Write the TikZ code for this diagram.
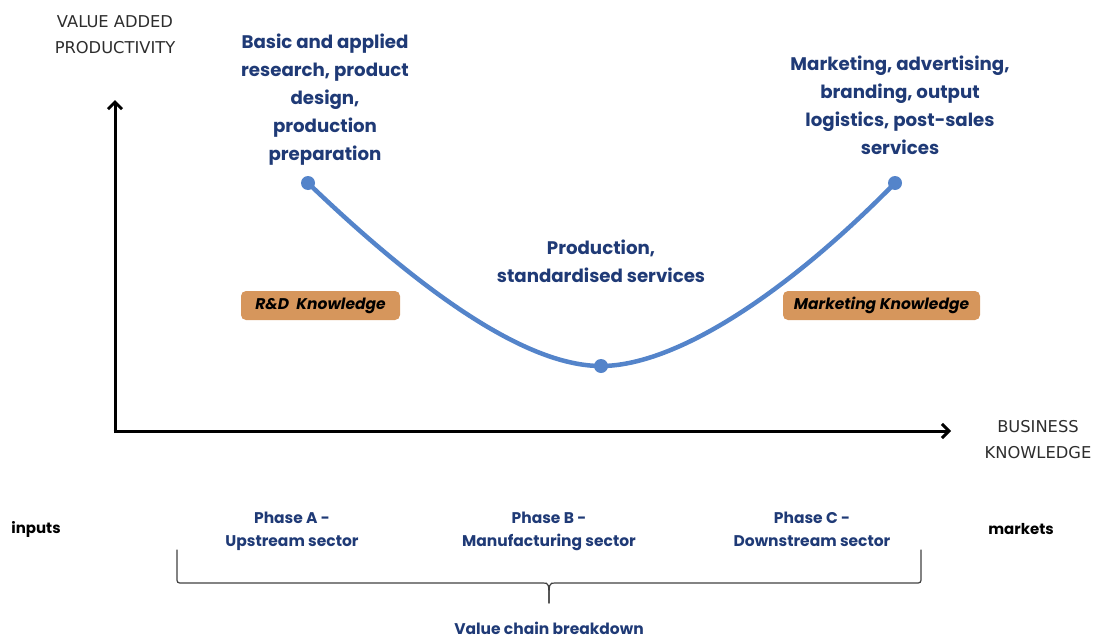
\documentclass[tikz,border=0pt]{standalone}
\usepackage{fontspec}
\setmainfont{Poppins}
\newfontfamily\axisfont{DejaVu Sans}
\usetikzlibrary{arrows.meta}
\definecolor{navy}{RGB}{31,58,118}
\definecolor{curveblue}{RGB}{84,132,202}
\definecolor{tan}{RGB}{214,150,92}
\definecolor{axisgrey}{RGB}{45,45,45}
\tikzset{
  blue label/.style={text=navy, font=\fontsize{18.2}{28}\selectfont\bfseries, align=center, inner sep=0pt},
  axis label/.style={text=axisgrey, font=\axisfont\fontsize{16.3}{26}\selectfont, align=center, inner sep=0pt},
  phase label/.style={text=navy, font=\fontsize{15.5}{23}\selectfont\bfseries, align=center, inner sep=0pt},
  end label/.style={text=black, font=\fontsize{15}{23}\selectfont\bfseries, inner sep=0pt},
  knowledge/.style={fill=tan, rounded corners=5pt, minimum height=29pt, inner sep=0pt,
    font=\fontsize{15.5}{18}\selectfont\bfseries\itshape, text=black},
  axis/.style={line width=3pt, -{Straight Barb[length=7pt,width=14pt,line width=3pt]}},
  dot/.style={circle, fill=curveblue, minimum size=14pt, inner sep=0pt},
  brace/.style={line width=1.2pt, black!75, line cap=round},
}
\begin{document}
\begin{tikzpicture}[x=1pt, y=-1pt]
  \useasboundingbox (0,0) rectangle (1101,640);

  % axes
  \coordinate (ytip) at (115,100);
  \coordinate (xtip) at (951,431);
  \draw[axis] (115,433) -- (ytip);
  \draw[axis] (113.5,431) -- (xtip);
  \node[axis label] (ylab) at (115,35) {VALUE ADDED\\PRODUCTIVITY};
  \node[axis label] (xlab) at (1038,440) {BUSINESS\\KNOWLEDGE};

  % smile curve
  \node[dot] (left) at (308,183) {};
  \node[dot] (bottom) at (601,366) {};
  \node[dot] (right) at (895,183) {};
  \draw[curveblue, line width=4.5pt]
    (left.center) .. controls (430,300) and (530,366) .. (bottom.center)
    .. controls (672,366) and (780,300) .. (right.center);

  % stage descriptions
  \node[blue label] (rd) at (325,100) {Basic and applied\\research, product\\design,\\production\\preparation};
  \node[blue label] (mk) at (900,105) {Marketing, advertising,\\branding, output\\logistics, post-sales\\services};
  \node[blue label] (prod) at (601,261) {Production,\\standardised services};

  \node[knowledge, minimum width=159pt] (rdk) at (320.5,305.5) {R\&D\ \ Knowledge};
  \node[knowledge, minimum width=197pt] (mkk) at (881.5,305.5) {Marketing Knowledge};

  % value chain phases
  \node[end label] (in) at (36,529) {inputs};
  \node[end label] (out) at (1021,529) {markets};
  \node[phase label] (pa) at (292,531.5) {Phase A -\\Upstream sector};
  \node[phase label] (pb) at (549,531.5) {Phase B -\\Manufacturing sector};
  \node[phase label] (pc) at (812,529.5) {Phase C -\\Downstream sector};

  % brace under the three phases
  \coordinate (bl) at (177,550);
  \coordinate (br) at (921,550);
  \coordinate (tip) at (549,603);
  \draw[brace] (bl) -- (177,577) .. controls (177,583) .. (183,583) -- (543,583)
    .. controls (549,583) .. (tip);
  \draw[brace] (br) -- (921,577) .. controls (921,583) .. (915,583) -- (555,583)
    .. controls (549,583) .. (tip);
  \node[phase label] (vc) at (549,628) {Value chain breakdown};
\end{tikzpicture}
\end{document}
